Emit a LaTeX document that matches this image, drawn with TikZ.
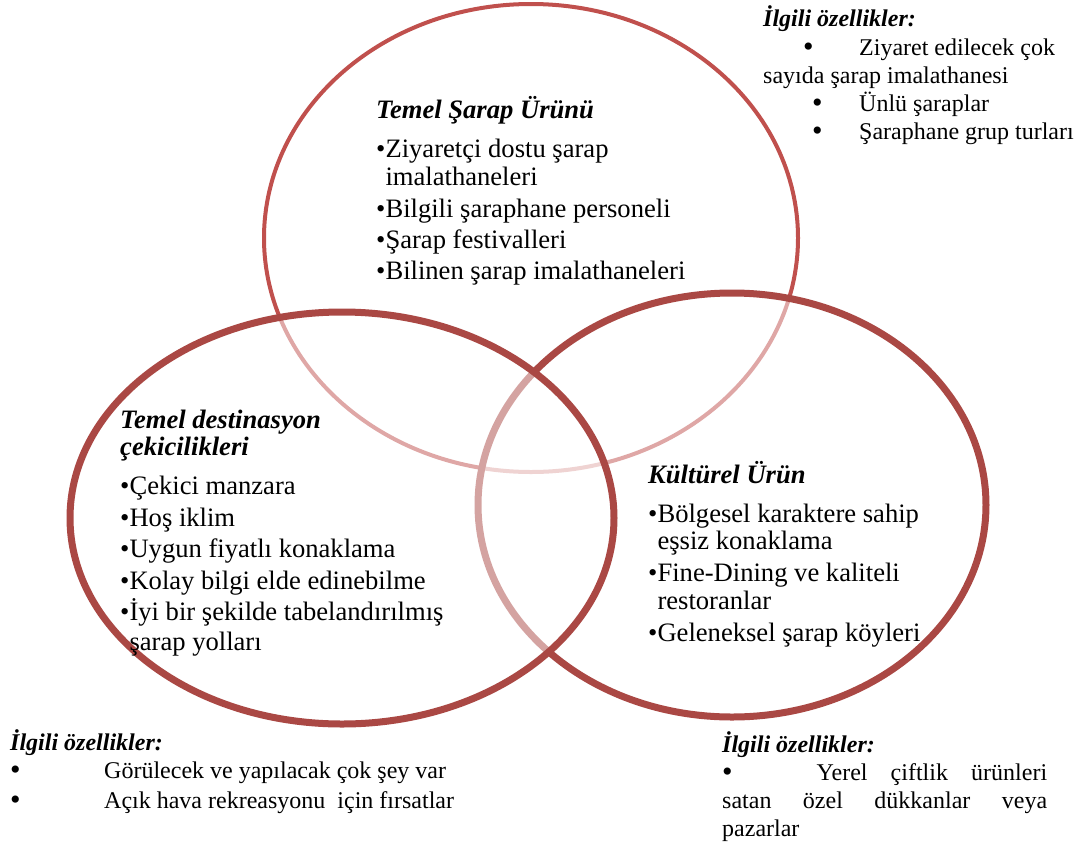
\documentclass[tikz,border=0pt]{standalone}
\usepackage{fontspec}
\setmainfont{Liberation Serif}
\usepackage{xcolor}
\usepackage{tikz}
\usetikzlibrary{positioning}
\definecolor{vennred}{RGB}{192,80,77}
\definecolor{venndark}{RGB}{170,72,68}
\newcommand{\bigbul}{\smash{\raisebox{-1pt}{\fontsize{30}{30}\selectfont •}}}

\begin{document}
\begin{tikzpicture}[x=1pt,y=-1pt,
  headline/.style={anchor=base west, inner sep=0pt, font=\fontsize{26.6}{31}\selectfont\bfseries\itshape},
  itemline/.style={anchor=base west, inner sep=0pt, font=\fontsize{26.6}{31}\selectfont},
  notehead/.style={anchor=base west, inner sep=0pt, font=\fontsize{24}{28}\selectfont\bfseries\itshape},
  noteline/.style={anchor=base west, inner sep=0pt, font=\fontsize{24}{28}\selectfont}]
\path[use as bounding box] (0,0) rectangle (1085,844);
\draw[vennred, line width=4pt] (531,238) ellipse [x radius=267pt, y radius=234pt];
\draw[venndark, line width=7pt, fill=white, fill opacity=0.5] (732,505) ellipse [x radius=254pt, y radius=212pt];
\draw[venndark, line width=7pt, fill=white, fill opacity=0.5] (342,518) ellipse [x radius=272pt, y radius=206pt];

\node[headline] (wine) at (376,118) {Temel Şarap Ürünü};
\node[itemline] (wine1) at (376,157) {•Ziyaretçi dostu şarap};
\node[itemline] (wine1b) at (376,185) {\phantom{•}imalathaneleri};
\node[itemline] (wine2) at (376,217) {•Bilgili şaraphane personeli};
\node[itemline] (wine3) at (376,248) {•Şarap festivalleri};
\node[itemline] (wine4) at (376,279) {•Bilinen şarap imalathaneleri};

\node[headline] (dest) at (120,428) {Temel destinasyon};
\node[headline] (destb) at (120,455) {çekicilikleri};
\node[itemline] (dest1) at (120,494) {•Çekici manzara};
\node[itemline] (dest2) at (120,526) {•Hoş iklim};
\node[itemline] (dest3) at (120,557) {•Uygun fiyatlı konaklama};
\node[itemline] (dest4) at (120,589) {•Kolay bilgi elde edinebilme};
\node[itemline] (dest5) at (120,620) {•İyi bir şekilde tabelandırılmış};
\node[itemline] (dest5b) at (120,650) {\phantom{•}şarap yolları};

\node[headline] (cult) at (648,483) {Kültürel Ürün};
\node[itemline] (cult1) at (648,522) {•Bölgesel karaktere sahip};
\node[itemline] (cult1b) at (648,549) {\phantom{•}eşsiz konaklama};
\node[itemline] (cult2) at (648,581) {•Fine-Dining ve kaliteli};
\node[itemline] (cult2b) at (648,609) {\phantom{•}restoranlar};
\node[itemline] (cult3) at (648,641) {•Geleneksel şarap köyleri};

\node[notehead] (featA) at (763,26) {İlgili özellikler:};
\node[noteline] (featA1) at (803,55) {\makebox[56pt][l]{\bigbul}Ziyaret edilecek çok};
\node[noteline] (featA1b) at (763,83) {sayıda şarap imalathanesi};
\node[noteline] (featA2) at (812,111) {\makebox[47pt][l]{\bigbul}Ünlü şaraplar};
\node[noteline] (featA3) at (812,139) {\makebox[47pt][l]{\bigbul}Şaraphane grup turları};

\node[notehead] (featB) at (10,750) {İlgili özellikler:};
\node[noteline] (featB1) at (10,778) {\makebox[94pt][l]{\bigbul}Görülecek ve yapılacak çok şey var};
\node[noteline] (featB2) at (10,808) {\makebox[94pt][l]{\bigbul}Açık hava rekreasyonu\ \ için fırsatlar};

\node[notehead] (featC) at (722,752) {İlgili özellikler:};
\node[noteline] (featC1) at (722,780) {\makebox[325pt][s]{\bigbul\hspace{84pt}Yerel çiftlik ürünleri}};
\node[noteline] (featC1b) at (722,808) {\makebox[325pt][s]{satan özel dükkanlar veya}};
\node[noteline] (featC1c) at (722,836) {pazarlar};
\end{tikzpicture}
\end{document}
